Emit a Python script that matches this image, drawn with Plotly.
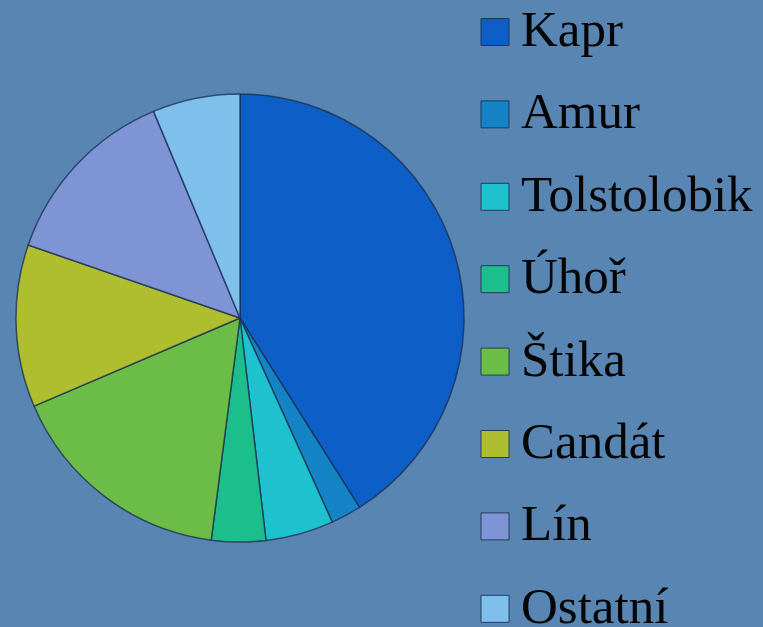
import plotly.graph_objects as go

# Fish catch composition (share in %)
labels = ['Kapr', 'Amur', 'Tolstolobik', 'Úhoř', 'Štika', 'Candát', 'Lín', 'Ostatní']
values = [41.0, 2.2, 4.9, 3.9, 16.5, 11.7, 13.4, 6.3]
colors = ['#0D5EC6', '#1584C6', '#1EC2CF', '#1CBE8C', '#6BBD48', '#AEBE2E', '#7F94D4', '#7EBFEC']

W, H = 763, 627
bg = '#5985B3'

fig = go.Figure()

fig.add_trace(go.Pie(
    labels=labels,
    values=values,
    sort=False,
    direction='clockwise',
    rotation=0,
    textinfo='none',
    marker=dict(colors=colors, line=dict(color='rgba(25,45,80,0.75)', width=1.5)),
    domain=dict(x=[16 / W, 464 / W], y=[(309 - 224) / H, (309 + 224) / H]),
    showlegend=False,
))

# hand-drawn legend: bigger swatches than plotly's built-in legend allows
shapes = []
annotations = []
row0, step = 32, 82.4
for i, (lab, col) in enumerate(zip(labels, colors)):
    yc = row0 + i * step
    shapes.append(dict(
        type='rect', xref='paper', yref='paper',
        x0=481 / W, x1=509 / W, y0=1 - (yc + 13.5) / H, y1=1 - (yc - 13.5) / H,
        fillcolor=col, line=dict(color='rgba(20,40,70,0.8)', width=1),
    ))
    annotations.append(dict(
        text=lab, xref='paper', yref='paper',
        x=519 / W, y=1 - (yc - 3) / H, xanchor='left', yanchor='middle',
        showarrow=False, font=dict(family='Liberation Serif', size=51, color='#050505'),
    ))

fig.update_layout(
    width=W, height=H,
    margin=dict(l=0, r=0, t=0, b=0),
    paper_bgcolor=bg,
    plot_bgcolor=bg,
    shapes=shapes,
    annotations=annotations,
)

# drop the default page margin so the chart fills the window
fig.write_html("out.html", config={'displayModeBar': False},
               post_script="document.body.style.margin='0';")
